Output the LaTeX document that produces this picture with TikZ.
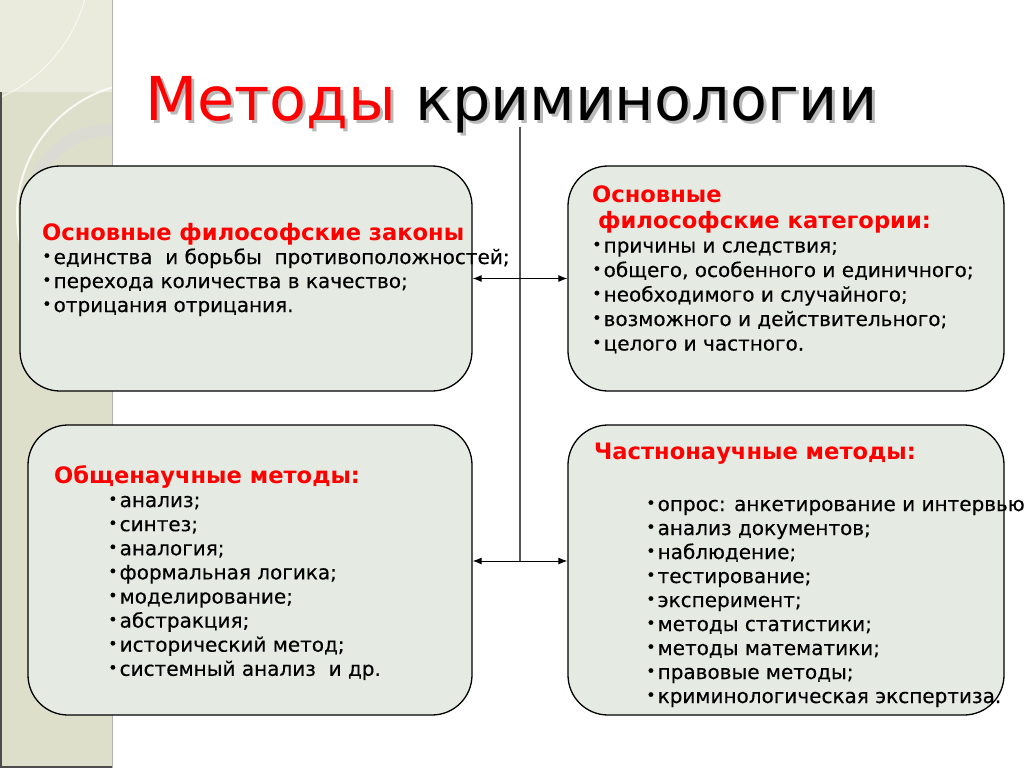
\documentclass[tikz,border=0pt]{standalone}
\usepackage{fontspec}
\setmainfont{DejaVu Sans}
\newfontfamily\bodyfont{DejaVu Sans}[FakeBold=0.35]
\usetikzlibrary{arrows.meta}

\definecolor{boxfill}{RGB}{229,235,227}
\definecolor{stripdark}{RGB}{222,223,202}
\definecolor{striplight}{RGB}{234,235,220}
\definecolor{hubgray}{RGB}{85,85,85}

\newcommand{\bul}{\raisebox{2.5pt}{\scalebox{0.8}{•}}\hspace{2pt}}

\tikzset{
  panel/.style={draw=black, line width=1.3pt, fill=boxfill, rounded corners=40pt,
    inner sep=0pt},
  head/.style={text=red, font=\fontsize{22.6}{26}\bfseries\selectfont, anchor=base west,
    inner sep=0pt},
  item/.style={font=\bodyfont\fontsize{20}{24}\selectfont, anchor=base west, inner sep=0pt},
  link/.style={{Latex[length=9pt,width=7pt]}-{Latex[length=9pt,width=7pt]}, line width=1pt},
}

\begin{document}
\begin{tikzpicture}[x=1pt, y=-1pt]
  \useasboundingbox (0,0) rectangle (1024,768);

  % side strip
  \begin{scope}
    \clip (0,0) rectangle (112,768);
    \fill[stripdark] (0,0) rectangle (112,768);
    \fill[striplight] (0,0) rectangle (112,92);
    \draw[white, line width=2pt, opacity=0.8] (150,215) circle (133pt);
    \draw[white, line width=1pt, opacity=0.7] (-60,-40) circle (150pt);
    \draw[gray!30, line width=12pt, opacity=0.6] (110,210) circle (80pt);
  \end{scope}
  \draw[gray!60, line width=1pt] (112,0) -- (112,768);
  \draw[black!70, line width=1.2pt] (1,92) -- (1,767) -- (112,767);

  % title
  \node[text=gray!55, font=\fontsize{60.5}{70}\selectfont, anchor=base west, inner sep=0pt]
    at (148,123) {Методы криминологии};
  \node[font=\fontsize{60.5}{70}\selectfont, anchor=base west, inner sep=0pt] (title)
    at (145,120) {\textcolor{red}{Методы} криминологии};

  % panels
  \node[panel, minimum width=452pt, minimum height=225pt] (laws) at (246,278.5) {};
  \node[panel, minimum width=436pt, minimum height=225pt] (cats) at (786,278.5) {};
  \node[panel, minimum width=444pt, minimum height=290pt] (general) at (250,570) {};
  \node[panel, minimum width=436pt, minimum height=290pt] (special) at (786,570) {};

  % connectors
  \coordinate (top) at (520,127);
  \coordinate (hubA) at (520,278.5);
  \coordinate (hubB) at (520,561);
  \draw[hubgray, line width=1.2pt] (top) -- (hubB);
  \draw[link] (laws.east |- hubA) -- (cats.west |- hubA);
  \draw[link] (general.east |- hubB) -- (special.west |- hubB);

  % texts
  \node[head] (laws-h) at (42,240) {Основные философские законы};
  \foreach \t [count=\i] in {единства\ \ и борьбы\ \ противоположностей;,
      перехода количества в качество;, отрицания отрицания.}
    \node[item] (laws-\i) at (42,240+24*\i) {\bul\t};

  \node[head] (cats-h1) at (592,202) {Основные};
  \node[head] (cats-h2) at (598,228) {философские категории:};
  \foreach \t [count=\i] in {причины и следствия;, {общего, особенного и единичного;},
      необходимого и случайного;, возможного и действительного;, целого и частного.}
    \node[item] (cats-\i) at (592,228+24.5*\i) {\bul\t};

  \node[head] (general-h) at (54,483) {Общенаучные методы:};
  \foreach \t [count=\i] in {анализ;, синтез;, аналогия;, формальная логика;,
      моделирование;, абстракция;, исторический метод;, системный анализ\ \ и др.}
    \node[item] (general-\i) at (108,483+24.1*\i) {\bul\t};

  \node[head] (special-h) at (594,459) {Частнонаучные методы:};
  \foreach \t [count=\i] in {опрос: анкетирование и интервью;, анализ документов;,
      наблюдение;, тестирование;, эксперимент;, методы статистики;, методы математики;,
      правовые методы;, криминологическая экспертиза.}
    \node[item] (special-\i) at (646,487+24*\i) {\bul\t};
\end{tikzpicture}
\end{document}
